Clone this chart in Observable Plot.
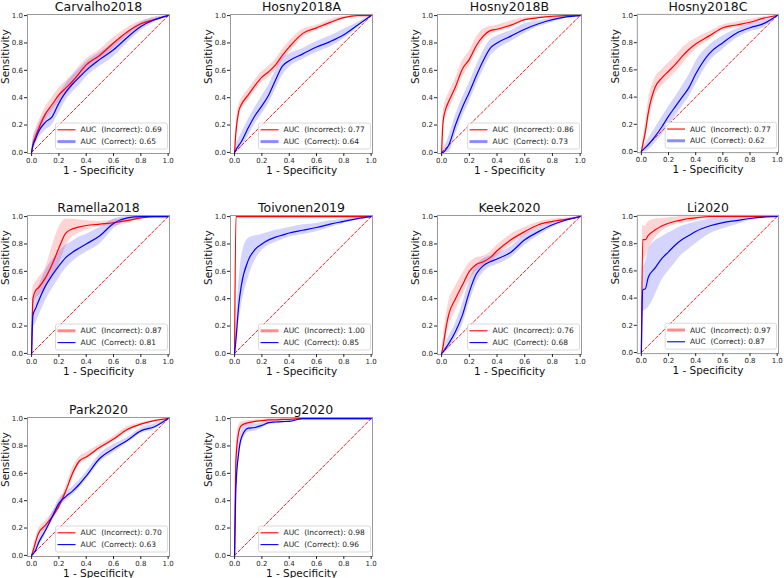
<!DOCTYPE html>
<html>
<head>
<meta charset="utf-8">
<script src="https://cdn.jsdelivr.net/npm/d3@7"></script>
<script src="https://cdn.jsdelivr.net/npm/@observablehq/plot@0.6"></script>
<style>
  body { margin: 0; background: #fff; }
  #root { position: relative; width: 784px; height: 578px; font-family: "DejaVu Sans", sans-serif; }
  .panel { position: absolute; }
</style>
</head>
<body>
<div id="root"></div>
<script>
// ---------- data ----------
const fpr = [0, 0.01, 0.03, 0.05, 0.1, 0.15, 0.2, 0.25, 0.3, 0.35, 0.4, 0.5, 0.6, 0.7, 0.8, 0.9, 1.0];
const tickValues = [0, 0.2, 0.4, 0.6, 0.8, 1.0];
const chanceLine = [[0, 0], [1, 1]];
const titles = ["Carvalho2018", "Hosny2018A", "Hosny2018B", "Hosny2018C", "Ramella2018", "Toivonen2019", "Keek2020", "Li2020", "Park2020", "Song2020"];
const aucIncorrect = ["0.69", "0.77", "0.86", "0.77", "0.87", "1.00", "0.76", "0.97", "0.70", "0.98"];
const aucCorrect   = ["0.65", "0.64", "0.73", "0.62", "0.81", "0.85", "0.68", "0.87", "0.63", "0.96"];

// Carvalho2018
const c18Incorrect   = [0, 0.06, 0.12, 0.17, 0.28, 0.35, 0.42, 0.47, 0.52, 0.58, 0.64, 0.71, 0.80, 0.88, 0.94, 0.97, 1.0];
const c18IncorrectLo = [0, 0.03, 0.08, 0.13, 0.23, 0.30, 0.37, 0.42, 0.48, 0.54, 0.60, 0.67, 0.76, 0.85, 0.92, 0.96, 1.0];
const c18IncorrectHi = [0, 0.10, 0.17, 0.22, 0.33, 0.40, 0.47, 0.52, 0.57, 0.63, 0.68, 0.75, 0.84, 0.91, 0.96, 0.98, 1.0];
const c18Correct     = [0, 0.05, 0.10, 0.15, 0.22, 0.26, 0.36, 0.44, 0.50, 0.55, 0.60, 0.68, 0.75, 0.84, 0.92, 0.97, 1.0];
const c18CorrectLo   = [0, 0.02, 0.06, 0.10, 0.16, 0.20, 0.29, 0.38, 0.44, 0.49, 0.55, 0.63, 0.70, 0.80, 0.89, 0.95, 1.0];
const c18CorrectHi   = [0, 0.09, 0.15, 0.20, 0.28, 0.33, 0.42, 0.50, 0.56, 0.61, 0.66, 0.73, 0.80, 0.88, 0.95, 0.99, 1.0];

// Hosny2018A
const h18aIncorrect   = [0, 0.15, 0.30, 0.35, 0.42, 0.49, 0.55, 0.59, 0.64, 0.71, 0.77, 0.87, 0.91, 0.95, 0.985, 1.0, 1.0];
const h18aIncorrectLo = [0, 0.10, 0.25, 0.31, 0.38, 0.45, 0.51, 0.55, 0.60, 0.67, 0.73, 0.84, 0.89, 0.93, 0.975, 0.995, 1.0];
const h18aIncorrectHi = [0, 0.20, 0.34, 0.39, 0.46, 0.53, 0.59, 0.63, 0.68, 0.75, 0.81, 0.90, 0.93, 0.97, 0.995, 1.0, 1.0];
const h18aCorrect     = [0, 0.02, 0.05, 0.08, 0.18, 0.27, 0.34, 0.42, 0.53, 0.63, 0.67, 0.72, 0.77, 0.81, 0.86, 0.93, 1.0];
const h18aCorrectLo   = [0, 0.0, 0.01, 0.03, 0.12, 0.21, 0.28, 0.36, 0.46, 0.56, 0.62, 0.68, 0.73, 0.77, 0.83, 0.91, 1.0];
const h18aCorrectHi   = [0, 0.05, 0.10, 0.14, 0.24, 0.33, 0.41, 0.49, 0.60, 0.69, 0.72, 0.76, 0.81, 0.85, 0.90, 0.95, 1.0];

// Hosny2018B
const h18bIncorrect   = [0, 0.22, 0.32, 0.37, 0.48, 0.61, 0.68, 0.78, 0.85, 0.89, 0.90, 0.93, 0.97, 0.985, 0.995, 1.0, 1.0];
const h18bIncorrectLo = [0, 0.15, 0.26, 0.31, 0.42, 0.55, 0.63, 0.73, 0.81, 0.86, 0.88, 0.91, 0.96, 0.98, 0.99, 1.0, 1.0];
const h18bIncorrectHi = [0, 0.28, 0.38, 0.43, 0.54, 0.67, 0.74, 0.84, 0.90, 0.92, 0.93, 0.96, 0.985, 0.995, 1.0, 1.0, 1.0];
const h18bCorrect     = [0, 0.0, 0.02, 0.05, 0.20, 0.33, 0.44, 0.56, 0.67, 0.76, 0.80, 0.85, 0.90, 0.94, 0.97, 0.99, 1.0];
const h18bCorrectLo   = [0, 0.0, 0.0, 0.0, 0.13, 0.26, 0.37, 0.49, 0.60, 0.70, 0.75, 0.81, 0.87, 0.92, 0.95, 0.98, 1.0];
const h18bCorrectHi   = [0, 0.03, 0.06, 0.11, 0.27, 0.40, 0.51, 0.63, 0.74, 0.82, 0.85, 0.89, 0.94, 0.96, 0.98, 1.0, 1.0];

// Hosny2018C
const h18cIncorrect   = [0, 0.05, 0.15, 0.28, 0.47, 0.54, 0.59, 0.64, 0.70, 0.75, 0.79, 0.85, 0.91, 0.93, 0.95, 0.98, 1.0];
const h18cIncorrectLo = [0, 0.02, 0.09, 0.20, 0.40, 0.48, 0.53, 0.58, 0.64, 0.70, 0.75, 0.82, 0.89, 0.91, 0.93, 0.97, 1.0];
const h18cIncorrectHi = [0, 0.08, 0.21, 0.36, 0.54, 0.60, 0.65, 0.70, 0.76, 0.80, 0.83, 0.88, 0.93, 0.95, 0.97, 0.99, 1.0];
const h18cCorrect     = [0, 0.01, 0.03, 0.05, 0.11, 0.18, 0.26, 0.33, 0.40, 0.47, 0.57, 0.72, 0.80, 0.87, 0.91, 0.94, 1.0];
const h18cCorrectLo   = [0, 0.0, 0.0, 0.01, 0.06, 0.12, 0.19, 0.26, 0.33, 0.40, 0.49, 0.66, 0.75, 0.83, 0.88, 0.91, 1.0];
const h18cCorrectHi   = [0, 0.03, 0.06, 0.09, 0.17, 0.25, 0.33, 0.40, 0.48, 0.56, 0.66, 0.78, 0.85, 0.90, 0.94, 0.97, 1.0];

// Ramella2018
const r18Incorrect   = [0, 0.40, 0.46, 0.48, 0.55, 0.65, 0.77, 0.88, 0.91, 0.925, 0.935, 0.945, 0.955, 0.97, 0.99, 1.0, 1.0];
const r18IncorrectLo = [0, 0.32, 0.40, 0.42, 0.47, 0.56, 0.65, 0.78, 0.85, 0.88, 0.90, 0.93, 0.93, 0.95, 0.98, 1.0, 1.0];
const r18IncorrectHi = [0, 0.48, 0.52, 0.55, 0.62, 0.78, 0.92, 0.98, 0.98, 0.975, 0.97, 0.965, 0.975, 0.99, 1.0, 1.0, 1.0];
const r18Correct     = [0, 0.28, 0.33, 0.38, 0.49, 0.57, 0.64, 0.70, 0.74, 0.77, 0.80, 0.86, 0.95, 0.99, 1.0, 1.0, 1.0];
const r18CorrectLo   = [0, 0.18, 0.22, 0.27, 0.38, 0.47, 0.55, 0.62, 0.67, 0.71, 0.74, 0.80, 0.91, 0.97, 0.99, 1.0, 1.0];
const r18CorrectHi   = [0, 0.38, 0.43, 0.48, 0.60, 0.68, 0.74, 0.79, 0.82, 0.85, 0.87, 0.92, 0.98, 1.0, 1.0, 1.0, 1.0];

// Toivonen2019
const t19Incorrect   = [0, 1.0, 1.0, 1.0, 1.0, 1.0, 1.0, 1.0, 1.0, 1.0, 1.0, 1.0, 1.0, 1.0, 1.0, 1.0, 1.0];
const t19IncorrectLo = [0, 1.0, 1.0, 1.0, 1.0, 1.0, 1.0, 1.0, 1.0, 1.0, 1.0, 1.0, 1.0, 1.0, 1.0, 1.0, 1.0];
const t19IncorrectHi = [0, 1.0, 1.0, 1.0, 1.0, 1.0, 1.0, 1.0, 1.0, 1.0, 1.0, 1.0, 1.0, 1.0, 1.0, 1.0, 1.0];
const t19Correct     = [0, 0.10, 0.35, 0.50, 0.68, 0.76, 0.80, 0.83, 0.85, 0.865, 0.88, 0.90, 0.92, 0.945, 0.965, 0.985, 1.0];
const t19CorrectLo   = [0, 0.05, 0.22, 0.35, 0.55, 0.68, 0.75, 0.79, 0.81, 0.83, 0.85, 0.87, 0.89, 0.92, 0.95, 0.975, 1.0];
const t19CorrectHi   = [0, 0.18, 0.50, 0.70, 0.84, 0.86, 0.87, 0.885, 0.90, 0.91, 0.92, 0.94, 0.95, 0.97, 0.98, 0.995, 1.0];

// Keek2020
const k20Incorrect   = [0, 0.05, 0.18, 0.28, 0.40, 0.50, 0.60, 0.65, 0.67, 0.70, 0.75, 0.83, 0.89, 0.94, 0.965, 0.98, 1.0];
const k20IncorrectLo = [0, 0.01, 0.10, 0.19, 0.31, 0.42, 0.53, 0.60, 0.63, 0.66, 0.71, 0.79, 0.86, 0.92, 0.95, 0.975, 1.0];
const k20IncorrectHi = [0, 0.10, 0.26, 0.37, 0.49, 0.58, 0.66, 0.70, 0.71, 0.74, 0.79, 0.87, 0.92, 0.96, 0.98, 0.99, 1.0];
const k20Correct     = [0, 0.01, 0.04, 0.07, 0.16, 0.28, 0.45, 0.58, 0.64, 0.67, 0.69, 0.74, 0.83, 0.89, 0.94, 0.975, 1.0];
const k20CorrectLo   = [0, 0.0, 0.01, 0.03, 0.11, 0.21, 0.37, 0.51, 0.59, 0.63, 0.65, 0.70, 0.79, 0.86, 0.92, 0.965, 1.0];
const k20CorrectHi   = [0, 0.03, 0.08, 0.12, 0.22, 0.36, 0.53, 0.64, 0.69, 0.71, 0.73, 0.78, 0.87, 0.92, 0.96, 0.985, 1.0];

// Li2020
const l20Incorrect   = [0, 0.83, 0.83, 0.86, 0.90, 0.93, 0.95, 0.965, 0.975, 0.985, 0.99, 1.0, 1.0, 1.0, 1.0, 1.0, 1.0];
const l20IncorrectLo = [0, 0.65, 0.70, 0.75, 0.84, 0.89, 0.92, 0.94, 0.95, 0.96, 0.97, 0.985, 0.99, 1.0, 1.0, 1.0, 1.0];
const l20IncorrectHi = [0, 0.93, 0.93, 0.96, 0.98, 0.985, 0.99, 0.995, 1.0, 1.0, 1.0, 1.0, 1.0, 1.0, 1.0, 1.0, 1.0];
const l20Correct     = [0, 0.46, 0.47, 0.55, 0.62, 0.69, 0.74, 0.79, 0.83, 0.86, 0.89, 0.93, 0.955, 0.97, 0.985, 0.995, 1.0];
const l20CorrectLo   = [0, 0.30, 0.31, 0.33, 0.42, 0.53, 0.60, 0.66, 0.72, 0.76, 0.80, 0.87, 0.91, 0.94, 0.97, 0.99, 1.0];
const l20CorrectHi   = [0, 0.62, 0.66, 0.75, 0.82, 0.85, 0.88, 0.905, 0.93, 0.945, 0.96, 0.98, 0.99, 0.995, 1.0, 1.0, 1.0];

// Park2020
const p20Incorrect   = [0, 0.03, 0.10, 0.16, 0.22, 0.28, 0.36, 0.47, 0.60, 0.69, 0.72, 0.79, 0.85, 0.92, 0.96, 0.985, 1.0];
const p20IncorrectLo = [0, 0.01, 0.07, 0.13, 0.19, 0.25, 0.33, 0.44, 0.56, 0.66, 0.70, 0.77, 0.83, 0.90, 0.95, 0.98, 1.0];
const p20IncorrectHi = [0, 0.05, 0.13, 0.19, 0.25, 0.31, 0.39, 0.50, 0.64, 0.72, 0.75, 0.81, 0.87, 0.94, 0.97, 0.99, 1.0];
const p20Correct     = [0, 0.01, 0.04, 0.09, 0.18, 0.28, 0.38, 0.43, 0.47, 0.52, 0.58, 0.71, 0.78, 0.84, 0.91, 0.94, 1.0];
const p20CorrectLo   = [0, 0.0, 0.02, 0.06, 0.15, 0.25, 0.35, 0.40, 0.44, 0.49, 0.55, 0.68, 0.75, 0.82, 0.89, 0.92, 1.0];
const p20CorrectHi   = [0, 0.03, 0.07, 0.12, 0.21, 0.31, 0.41, 0.46, 0.50, 0.55, 0.61, 0.74, 0.81, 0.86, 0.93, 0.96, 1.0];

// Song2020
const s20Incorrect   = [0, 0.70, 0.90, 0.95, 0.97, 0.98, 0.985, 0.99, 0.99, 0.995, 0.995, 1.0, 1.0, 1.0, 1.0, 1.0, 1.0];
const s20IncorrectLo = [0, 0.58, 0.85, 0.92, 0.955, 0.97, 0.98, 0.985, 0.985, 0.99, 0.99, 1.0, 1.0, 1.0, 1.0, 1.0, 1.0];
const s20IncorrectHi = [0, 0.80, 0.95, 0.975, 0.985, 0.99, 0.995, 1.0, 1.0, 1.0, 1.0, 1.0, 1.0, 1.0, 1.0, 1.0, 1.0];
const s20Correct     = [0, 0.50, 0.75, 0.86, 0.93, 0.935, 0.95, 0.97, 0.975, 0.978, 0.98, 1.0, 1.0, 1.0, 1.0, 1.0, 1.0];
const s20CorrectLo   = [0, 0.40, 0.68, 0.81, 0.90, 0.91, 0.93, 0.955, 0.965, 0.97, 0.97, 0.995, 1.0, 1.0, 1.0, 1.0, 1.0];
const s20CorrectHi   = [0, 0.60, 0.82, 0.91, 0.96, 0.96, 0.97, 0.985, 0.985, 0.99, 0.99, 1.0, 1.0, 1.0, 1.0, 1.0, 1.0];

const series = [
  [c18Incorrect, c18IncorrectLo, c18IncorrectHi, c18Correct, c18CorrectLo, c18CorrectHi],
  [h18aIncorrect, h18aIncorrectLo, h18aIncorrectHi, h18aCorrect, h18aCorrectLo, h18aCorrectHi],
  [h18bIncorrect, h18bIncorrectLo, h18bIncorrectHi, h18bCorrect, h18bCorrectLo, h18bCorrectHi],
  [h18cIncorrect, h18cIncorrectLo, h18cIncorrectHi, h18cCorrect, h18cCorrectLo, h18cCorrectHi],
  [r18Incorrect, r18IncorrectLo, r18IncorrectHi, r18Correct, r18CorrectLo, r18CorrectHi],
  [t19Incorrect, t19IncorrectLo, t19IncorrectHi, t19Correct, t19CorrectLo, t19CorrectHi],
  [k20Incorrect, k20IncorrectLo, k20IncorrectHi, k20Correct, k20CorrectLo, k20CorrectHi],
  [l20Incorrect, l20IncorrectLo, l20IncorrectHi, l20Correct, l20CorrectLo, l20CorrectHi],
  [p20Incorrect, p20IncorrectLo, p20IncorrectHi, p20Correct, p20CorrectLo, p20CorrectHi],
  [s20Incorrect, s20IncorrectLo, s20IncorrectHi, s20Correct, s20CorrectLo, s20CorrectHi]
];

// ---------- layout & style ----------
const legendStyle = ["correct", "correct", "correct", "correct", "incorrect", "incorrect", "none", "incorrect", "none", "none"];
const colLeft = [27, 230, 437, 637];
const colWidth = [142, 142, 144, 142];
const rowTop = [14, 215, 417];
const boxH = 139;
const ML = 34, MR = 6, MT = 20, MB = 30;
const RED = "#ff0000", BLUE = "#0000ff";

function legendMark(i) {
  return (index, scales, values, dims) => {
    const g = d3.create("svg:g").attr("text-anchor", "start");
    const right = dims.width - dims.marginRight - 1.5;
    const bottom = dims.height - dims.marginBottom - 4;
    const w = 112, h = 26;
    const x0 = right - w, y0 = bottom - h;
    g.append("rect").attr("x", x0).attr("y", y0).attr("width", w).attr("height", h)
      .attr("rx", 2).attr("fill", "white").attr("fill-opacity", 0.8)
      .attr("stroke", "#d0d0d0").attr("stroke-width", 0.8);
    const entries = [
      {c: RED, label: `AUC  (Incorrect): ${aucIncorrect[i]}`, thick: legendStyle[i] === "incorrect"},
      {c: BLUE, label: `AUC  (Correct): ${aucCorrect[i]}`, thick: legendStyle[i] === "correct"}
    ];
    entries.forEach((e, k) => {
      const yy = y0 + 6.8 + k * 11.8;
      g.append("line").attr("x1", x0 + 2).attr("x2", x0 + 20).attr("y1", yy).attr("y2", yy)
        .attr("stroke", e.c).attr("stroke-width", e.thick ? 3 : 1.1)
        .attr("stroke-opacity", e.thick ? 0.45 : 1);
      g.append("text").attr("x", x0 + 25).attr("y", yy).attr("dy", "0.35em")
        .attr("text-anchor", "start")
        .attr("font-size", 7.5).attr("fill", "#222").style("white-space", "pre")
        .text(e.label);
    });
    return g.node();
  };
}

const root = document.getElementById("root");
titles.forEach((title, i) => {
  const r = Math.floor(i / 4), c = i % 4;
  const bw = colWidth[c];
  const [inc, incLo, incHi, cor, corLo, corHi] = series[i];
  const rows = fpr.map((x, j) => ({x, inc: inc[j], incLo: incLo[j], incHi: incHi[j], cor: cor[j], corLo: corLo[j], corHi: corHi[j]}));
  const chart = Plot.plot({
    width: bw + ML + MR,
    height: boxH + MT + MB,
    marginLeft: ML, marginRight: MR, marginTop: MT, marginBottom: MB,
    style: {fontFamily: "DejaVu Sans", fontSize: "7px", color: "#222", background: "transparent", overflow: "visible"},
    x: {domain: [-0.03, 1.01]},
    y: {domain: [-0.008, 1.008]},
    marks: [
      Plot.areaY(rows, {x: "x", y1: "incLo", y2: "incHi", fill: RED, fillOpacity: 0.17, curve: "monotone-x"}),
      Plot.areaY(rows, {x: "x", y1: "corLo", y2: "corHi", fill: BLUE, fillOpacity: 0.17, curve: "monotone-x"}),
      Plot.line(chanceLine, {x: d => d[0], y: d => d[1], stroke: RED, strokeWidth: 1, strokeOpacity: 0.9, strokeDasharray: "3,2"}),
      Plot.line(rows, {x: "x", y: "inc", stroke: RED, strokeWidth: 1.2, curve: "monotone-x"}),
      Plot.line(rows, {x: "x", y: "cor", stroke: BLUE, strokeWidth: 1.2, curve: "monotone-x"}),
      Plot.frame({stroke: "#999", strokeWidth: 1}),
      Plot.axisX({ticks: tickValues, tickFormat: d3.format(".1f"), tickSize: 3, tickPadding: 1.5, label: null, fontSize: 7}),
      Plot.axisY({ticks: tickValues, tickFormat: d3.format(".1f"), tickSize: 3, tickPadding: 1.5, label: null, fontSize: 7}),
      Plot.text([title], {frameAnchor: "top", dy: -7.5, fontSize: 12.5, fill: "#111", lineAnchor: "middle"}),
      Plot.text(["1 - Specificity"], {frameAnchor: "bottom", dy: 17, fontSize: 10.5, fill: "#111", lineAnchor: "middle"}),
      Plot.text(["Sensitivity"], {frameAnchor: "left", dx: -22, rotate: -90, fontSize: 10.5, fill: "#111", lineAnchor: "middle"}),
      legendMark(i)
    ]
  });
  const div = document.createElement("div");
  div.className = "panel";
  div.style.left = (colLeft[c] - ML) + "px";
  div.style.top = (rowTop[r] - MT) + "px";
  div.appendChild(chart);
  root.appendChild(div);
});
</script>
</body>
</html>
